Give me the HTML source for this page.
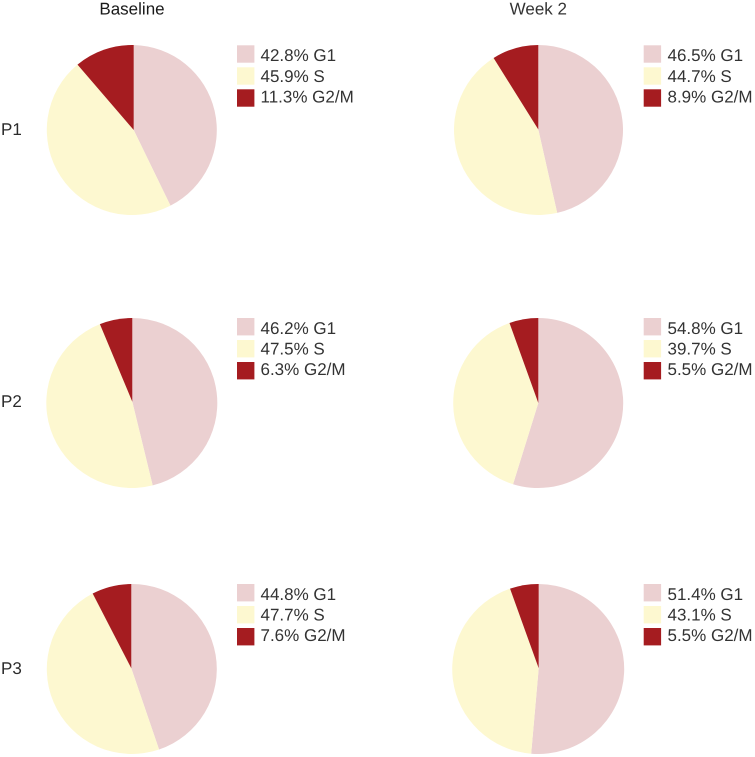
<!DOCTYPE html>
<html lang="en">
<head>
<meta charset="utf-8">
<title>Cell cycle phase pies</title>
<style>
  html, body { margin: 0; padding: 0; background: #fff; }
  html { width: 755px; height: 757px; overflow: hidden; }
  body { width: 755px; height: 757px; overflow: hidden; }
  svg { display: block; overflow: hidden; font-family: "Liberation Sans", Arial, sans-serif; text-rendering: geometricPrecision; }
</style>
</head>
<body>
<svg id="chart" xmlns="http://www.w3.org/2000/svg" width="755" height="757" viewBox="0 0 755 757">
  <rect width="755" height="757" fill="#ffffff"/>
  <text x="132" y="14.7" font-size="17" fill="#1a1a1a" text-anchor="middle">Baseline</text>
  <text x="538.3" y="14.7" font-size="17" fill="#333333" text-anchor="middle">Week 2</text>
  <text x="1" y="135" font-size="17" fill="#2b2b2b">P1</text>
  <text x="1" y="407" font-size="17" fill="#2b2b2b">P2</text>
  <text x="1" y="674" font-size="17" fill="#2b2b2b">P3</text>
</svg>
<script>
// Chart data
const phases = ['G1', 'S', 'G2/M'];
const phaseColors = ['#ebd0d1', '#fdf8d0', '#a51c20'];
const patients = ['P1', 'P2', 'P3'];
const timepoints = ['Baseline', 'Week 2'];
const baselineP1 = [42.8, 45.9, 11.3];
const baselineP2 = [46.2, 47.5, 6.3];
const baselineP3 = [44.8, 47.7, 7.6];
const week2P1 = [46.5, 44.7, 8.9];
const week2P2 = [54.8, 39.7, 5.5];
const week2P3 = [51.4, 43.1, 5.5];
const baselineSeries = [baselineP1, baselineP2, baselineP3];
const week2Series = [week2P1, week2P2, week2P3];
const seriesByTimepoint = [baselineSeries, week2Series];

// Layout
const pieCenterX = [[131.8, 131.8, 131.8], [538.5, 538.2, 538.2]];
const pieCenterY = [130, 403, 669];
const pieRadiusX = [[85, 85.5, 85], [84.5, 85, 86]];
const pieRadiusY = [85, 85, 85];
const apexX = [[133.7, 132.3, 131.3], [538.3, 538.3, 538.7]];
const apexY = [[130, 401.7, 668.3], [129.5, 403, 668.3]];
const legendSwatchX = [237, 643.7];
const legendTextX = [260.5, 667.5];
const legendTop = [45.3, 318, 584];
const legendSwatchSize = 17.4;
const legendSwatchStep = 22;
const legendTextOffset = 15.8;
const legendTextStep = 20.7;

const svgNS = 'http://www.w3.org/2000/svg';
const chart = document.getElementById('chart');

function angleScale(value, total) {
  return value / total * 2 * Math.PI;
}

// Point where a clockwise-from-top ray leaving the apex meets the pie's rim.
function rimPoint(ax, ay, cx, cy, rx, ry, angle) {
  const dx = Math.sin(angle) / rx;
  const dy = -Math.cos(angle) / ry;
  const ox = (ax - cx) / rx;
  const oy = (ay - cy) / ry;
  const a = dx * dx + dy * dy;
  const b = 2 * (ox * dx + oy * dy);
  const c = ox * ox + oy * oy - 1;
  const t = (-b + Math.sqrt(b * b - 4 * a * c)) / (2 * a);
  return [ax + t * Math.sin(angle), ay - t * Math.cos(angle)];
}

function slug(text) {
  return text.toLowerCase().replace(/[^a-z0-9]+/g, '-');
}

timepoints.forEach(function (timepoint, col) {
  patients.forEach(function (patient, row) {
    const values = seriesByTimepoint[col][row];
    const total = values.reduce(function (a, b) { return a + b; }, 0);
    const prefix = slug(timepoint) + '-' + slug(patient);
    const cx = pieCenterX[col][row];
    const cy = pieCenterY[row];
    const rx = pieRadiusX[col][row];
    const ry = pieRadiusY[row];
    const ax = apexX[col][row];
    const ay = apexY[col][row];

    const group = document.createElementNS(svgNS, 'g');
    
    
    chart.appendChild(group);

    let cumulative = 0;
    values.forEach(function (value, i) {
      const startAngle = angleScale(cumulative, total);
      cumulative += value;
      const endAngle = angleScale(cumulative, total);
      const p0 = rimPoint(ax, ay, cx, cy, rx, ry, startAngle);
      const p1 = rimPoint(ax, ay, cx, cy, rx, ry, endAngle);
      const large = endAngle - startAngle > Math.PI ? 1 : 0;

      const slice = document.createElementNS(svgNS, 'path');
      slice.setAttribute('d', 'M' + ax + ' ' + ay + 'L' + p0[0] + ' ' + p0[1] +
        'A' + rx + ' ' + ry + ' 0 ' + large + ' 1 ' + p1[0] + ' ' + p1[1] + 'Z');
      slice.setAttribute('fill', phaseColors[i]);
      
      
      group.appendChild(slice);

      const swatch = document.createElementNS(svgNS, 'rect');
      swatch.setAttribute('x', legendSwatchX[col]);
      swatch.setAttribute('y', legendTop[row] + i * legendSwatchStep);
      swatch.setAttribute('width', legendSwatchSize);
      swatch.setAttribute('height', legendSwatchSize);
      swatch.setAttribute('fill', phaseColors[i]);
      
      
      group.appendChild(swatch);

      const label = document.createElementNS(svgNS, 'text');
      label.setAttribute('x', legendTextX[col]);
      label.setAttribute('y', legendTop[row] + legendTextOffset + i * legendTextStep);
      label.setAttribute('font-size', '17');
      label.setAttribute('fill', '#333333');
      
      
      label.textContent = value.toFixed(1) + '% ' + phases[i];
      group.appendChild(label);
    });
  });
});
</script>
</body>
</html>
